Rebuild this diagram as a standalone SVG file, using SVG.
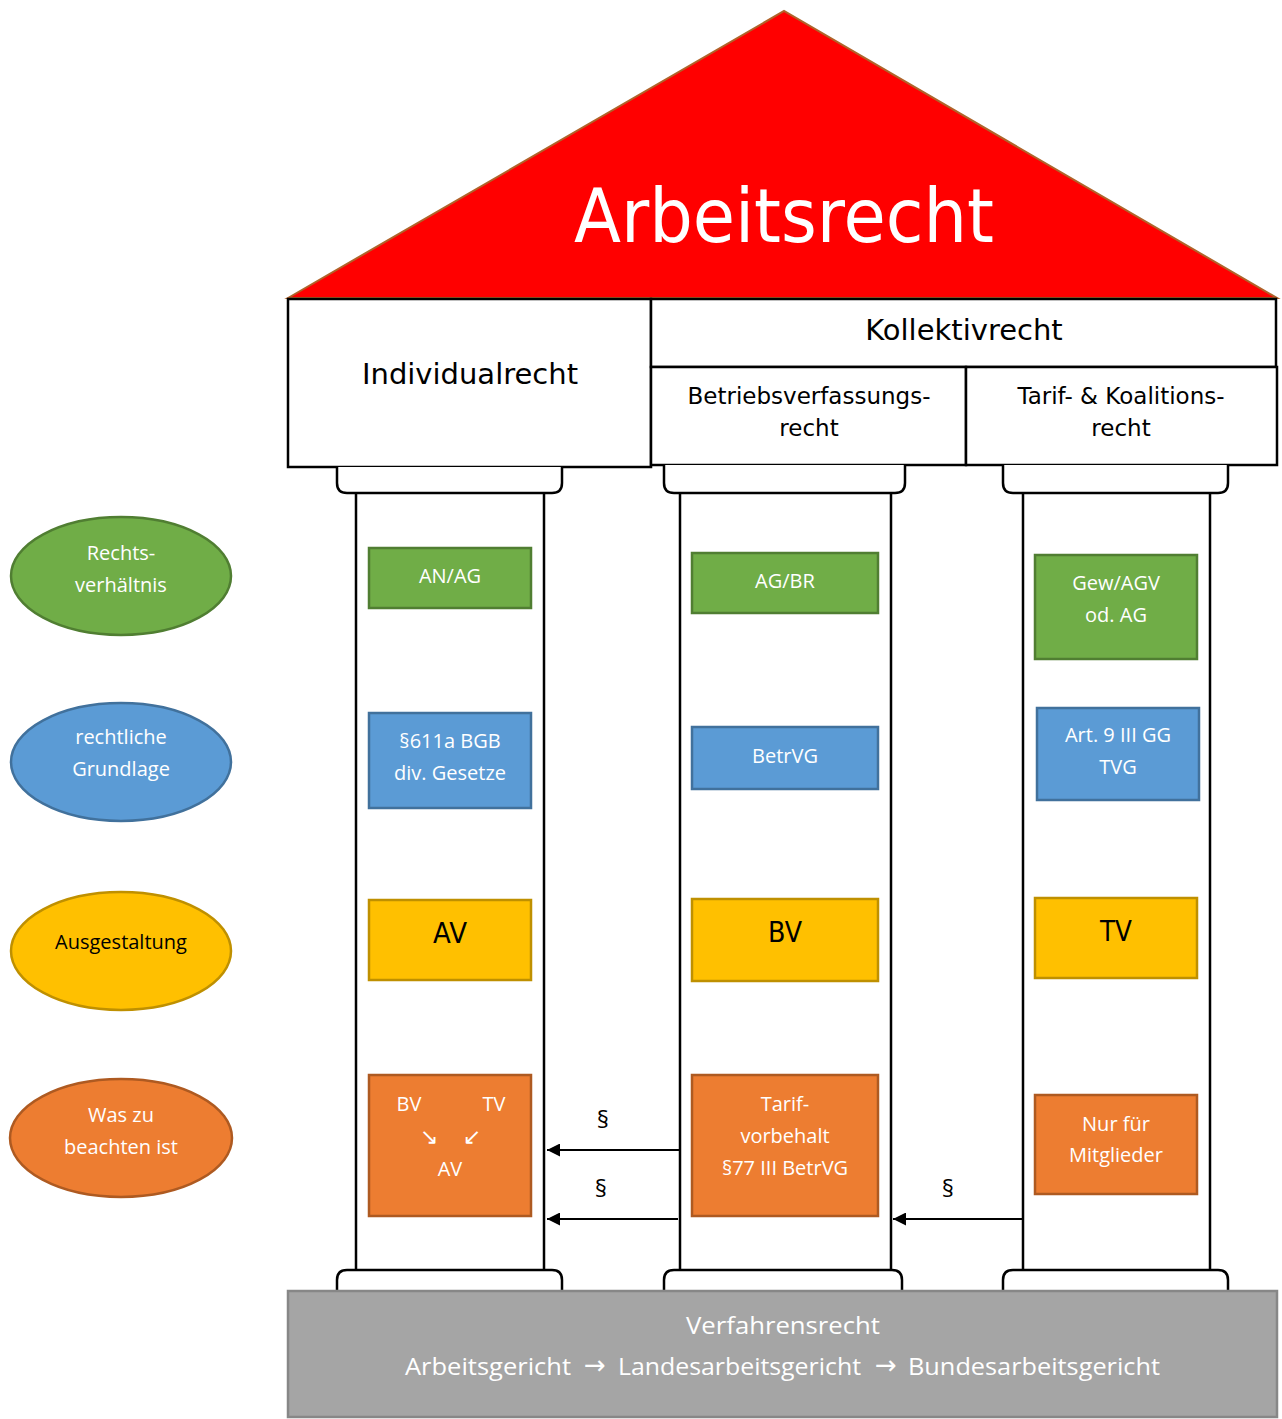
<svg xmlns="http://www.w3.org/2000/svg" width="1282" height="1419" viewBox="0 0 1282 1419">
<style>
.hdr{font-family:"DejaVu Sans",Verdana,sans-serif;fill:#000;text-anchor:middle}
.frame{fill:#fff;stroke:#000;stroke-width:2.5}
.col{fill:#fff;stroke:#000;stroke-width:2.5}
.lbl{font-family:"Open Sans","Noto Sans",sans-serif;font-size:20px;fill:#fff;text-anchor:middle}
.fnd{font-family:"Open Sans","Noto Sans",sans-serif;font-size:24.5px;fill:#fff;text-anchor:start}
.arr{font-family:"DejaVu Sans",sans-serif;font-size:26px;fill:#fff;text-anchor:middle}
.big{font-family:"DejaVu Sans",Verdana,sans-serif;font-size:28px;fill:#000;text-anchor:middle}
.g{fill:#70AD47;stroke:#507E32;stroke-width:2.5}
.b{fill:#5B9BD5;stroke:#41719C;stroke-width:2.5}
.y{fill:#FFC000;stroke:#BF9000;stroke-width:2.5}
.o{fill:#ED7D31;stroke:#AE5A21;stroke-width:2.5}
.con{stroke:#000;stroke-width:2;fill:none;marker-end:url(#ah)}
.par{font-family:"Open Sans","Noto Sans",sans-serif;font-size:24px;fill:#000;text-anchor:middle}
</style>
<defs>
<marker id="ah" viewBox="0 0 10 10" refX="10" refY="5" markerWidth="15" markerHeight="13" markerUnits="userSpaceOnUse" orient="auto">
<path d="M0,0 L10,5 L0,10 z" fill="#000"/>
</marker>
</defs>

<g id="roof">
<polygon points="288,298 784,11 1277,298" fill="#FF0000" stroke="#B0632A" stroke-width="2"/>
<text x="784" y="242" font-family="DejaVu Sans,Verdana,sans-serif" font-size="75" fill="#fff" text-anchor="middle" textLength="420" lengthAdjust="spacingAndGlyphs">Arbeitsrecht</text>
</g>

<g id="individualrecht">
<rect class="frame" x="288" y="299" width="363" height="168"/>
<text class="hdr" x="470" y="384" font-size="29">Individualrecht</text>
</g>
<g id="kollektivrecht">
<rect class="frame" x="651" y="299" width="625" height="68"/>
<text class="hdr" x="964" y="340" font-size="29">Kollektivrecht</text>
</g>
<g id="betriebsverfassungsrecht">
<rect class="frame" x="651" y="367" width="315" height="98"/>
<text class="hdr" x="809" y="404" font-size="23">Betriebsverfassungs-</text>
<text class="hdr" x="809" y="436" font-size="23">recht</text>
</g>
<g id="tarifrecht">
<rect class="frame" x="966" y="367" width="311" height="98"/>
<text class="hdr" x="1121" y="404" font-size="23">Tarif- &amp; Koalitions-</text>
<text class="hdr" x="1121" y="436" font-size="23">recht</text>
</g>

<g id="pillar-left">
<path class="col" d="M337,467 V483 Q337,493 347,493 H552 Q562,493 562,483 V467"/>
<line x1="356" y1="493" x2="356" y2="1270" stroke="#000" stroke-width="2.5"/>
<line x1="544" y1="493" x2="544" y2="1270" stroke="#000" stroke-width="2.5"/>
<path class="col" d="M337,1291 V1280 Q337,1270 347,1270 H552 Q562,1270 562,1280 V1291"/>
</g>
<g id="pillar-middle">
<path class="col" d="M664,465 V483 Q664,493 674,493 H895 Q905,493 905,483 V465"/>
<line x1="680" y1="493" x2="680" y2="1270" stroke="#000" stroke-width="2.5"/>
<line x1="891" y1="493" x2="891" y2="1270" stroke="#000" stroke-width="2.5"/>
<path class="col" d="M664,1291 V1280 Q664,1270 674,1270 H892 Q902,1270 902,1280 V1291"/>
</g>
<g id="pillar-right">
<path class="col" d="M1003,465 V483 Q1003,493 1013,493 H1218 Q1228,493 1228,483 V465"/>
<line x1="1023" y1="493" x2="1023" y2="1270" stroke="#000" stroke-width="2.5"/>
<line x1="1210" y1="493" x2="1210" y2="1270" stroke="#000" stroke-width="2.5"/>
<path class="col" d="M1003,1291 V1280 Q1003,1270 1013,1270 H1218 Q1228,1270 1228,1280 V1291"/>
</g>

<g id="foundation">
<rect x="288" y="1291" width="989" height="126" fill="#A5A5A5" stroke="#878787" stroke-width="2.5"/>
<text class="fnd" x="686" y="1334" textLength="194" lengthAdjust="spacingAndGlyphs">Verfahrensrecht</text>
<text class="fnd" x="405" y="1375" textLength="166" lengthAdjust="spacingAndGlyphs">Arbeitsgericht</text>
<text class="arr" x="595" y="1374">→</text>
<text class="fnd" x="618" y="1375" textLength="243" lengthAdjust="spacingAndGlyphs">Landesarbeitsgericht</text>
<text class="arr" x="886" y="1374">→</text>
<text class="fnd" x="908" y="1375" textLength="252" lengthAdjust="spacingAndGlyphs">Bundesarbeitsgericht</text>
</g>

<g id="legend-rechtsverhaeltnis">
<ellipse cx="121" cy="576" rx="110" ry="59" class="g"/>
<text class="lbl" x="121" y="560">Rechts-</text>
<text class="lbl" x="121" y="592">verhältnis</text>
</g>
<g id="legend-grundlage">
<ellipse cx="121" cy="762" rx="110" ry="59" class="b"/>
<text class="lbl" x="121" y="744">rechtliche</text>
<text class="lbl" x="121" y="776">Grundlage</text>
</g>
<g id="legend-ausgestaltung">
<ellipse cx="121" cy="951" rx="110" ry="59" class="y"/>
<text class="lbl" x="121" y="949" style="fill:#000">Ausgestaltung</text>
</g>
<g id="legend-beachten">
<ellipse cx="121" cy="1138" rx="111" ry="59" class="o"/>
<text class="lbl" x="121" y="1122">Was zu</text>
<text class="lbl" x="121" y="1154">beachten ist</text>
</g>

<g id="an-ag">
<rect class="g" x="369" y="548" width="162" height="60"/>
<text class="lbl" x="450" y="583">AN/AG</text>
</g>
<g id="ag-br">
<rect class="g" x="692" y="553" width="186" height="60"/>
<text class="lbl" x="785" y="588">AG/BR</text>
</g>
<g id="gew-agv">
<rect class="g" x="1035" y="555" width="162" height="104"/>
<text class="lbl" x="1116" y="590">Gew/AGV</text>
<text class="lbl" x="1116" y="622">od. AG</text>
</g>

<g id="bgb">
<rect class="b" x="369" y="713" width="162" height="95"/>
<text class="lbl" x="450" y="748">§611a BGB</text>
<text class="lbl" x="450" y="780">div. Gesetze</text>
</g>
<g id="betrvg">
<rect class="b" x="692" y="727" width="186" height="62"/>
<text class="lbl" x="785" y="763">BetrVG</text>
</g>
<g id="gg-tvg">
<rect class="b" x="1037" y="708" width="162" height="92"/>
<text class="lbl" x="1118" y="742">Art. 9 III GG</text>
<text class="lbl" x="1118" y="774">TVG</text>
</g>

<g id="av">
<rect class="y" x="369" y="900" width="162" height="80"/>
<text class="big" x="450" y="943" textLength="34" lengthAdjust="spacingAndGlyphs">AV</text>
</g>
<g id="bv">
<rect class="y" x="692" y="899" width="186" height="82"/>
<text class="big" x="785" y="942" textLength="34" lengthAdjust="spacingAndGlyphs">BV</text>
</g>
<g id="tv">
<rect class="y" x="1035" y="898" width="162" height="80"/>
<text class="big" x="1116" y="941" textLength="32" lengthAdjust="spacingAndGlyphs">TV</text>
</g>

<g id="rangfolge">
<rect class="o" x="369" y="1075" width="162" height="141"/>
<text class="lbl" x="409" y="1111">BV</text>
<text class="lbl" x="494" y="1111">TV</text>
<text class="lbl" x="429" y="1144" style="font-family:'DejaVu Sans',sans-serif;font-size:22px">↘</text>
<text class="lbl" x="472" y="1144" style="font-family:'DejaVu Sans',sans-serif;font-size:22px">↙</text>
<text class="lbl" x="450" y="1176">AV</text>
</g>
<g id="tarifvorbehalt">
<rect class="o" x="692" y="1075" width="186" height="141"/>
<text class="lbl" x="785" y="1111">Tarif-</text>
<text class="lbl" x="785" y="1143">vorbehalt</text>
<text class="lbl" x="785" y="1175">§77 III BetrVG</text>
</g>
<g id="mitglieder">
<rect class="o" x="1035" y="1095" width="162" height="99"/>
<text class="lbl" x="1116" y="1131">Nur für</text>
<text class="lbl" x="1116" y="1162">Mitglieder</text>
</g>

<g id="connectors">
<line class="con" x1="680" y1="1150" x2="547" y2="1150"/>
<text class="par" x="603" y="1128">§</text>
<line class="con" x1="678" y1="1219" x2="547" y2="1219"/>
<text class="par" x="601" y="1197">§</text>
<line class="con" x1="1023" y1="1219" x2="893" y2="1219"/>
<text class="par" x="948" y="1197">§</text>
</g>
</svg>
